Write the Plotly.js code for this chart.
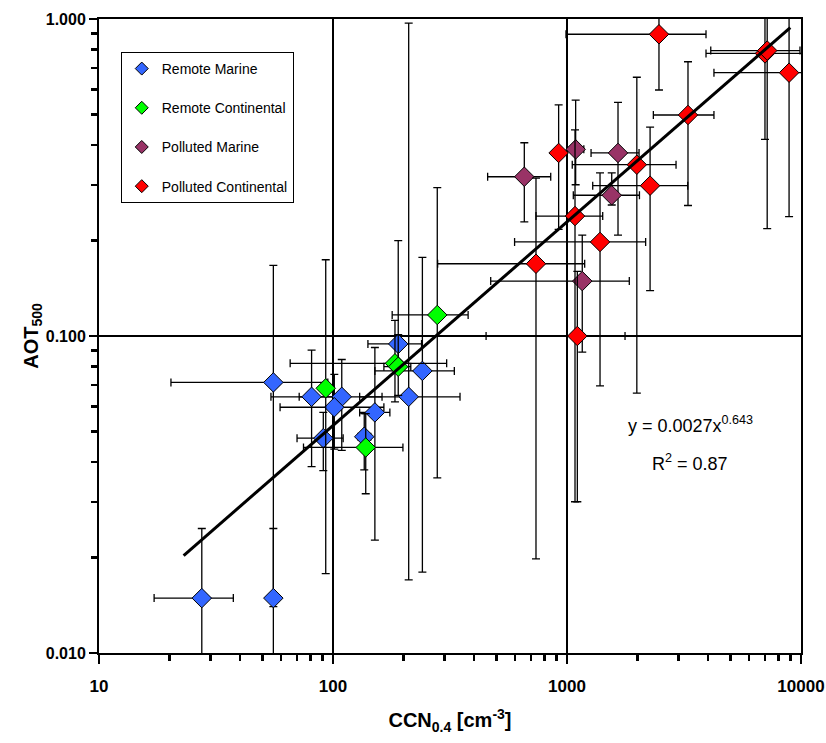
<!DOCTYPE html>
<html>
<head>
<meta charset="utf-8">
<script src="https://cdn.plot.ly/plotly-3.0.1.min.js"></script>
<style>html,body{margin:0;padding:0;background:#fff;}#chart{width:826px;height:743px;}</style>
</head>
<body>
<div id="chart"></div>
<script>
// Remote Marine
const rmX   = [27.5, 55.6, 55.6, 81, 109, 101.3, 90.9, 151, 136, 190, 241, 210.6];
const rmY   = [0.0149, 0.0149, 0.0714, 0.0643, 0.0643, 0.0596, 0.0476, 0.0574, 0.0481, 0.0944, 0.0776, 0.0643];
const rmXLo = [17.2, 55.6, 20.3, 54.3, 71.7, 59.4, 70.2, 130, 128, 141, 151, 130];
const rmXHi = [37.5, 55.6, 95, 100, 162, 165, 110.5, 175, 145, 239, 330, 349];
const rmYLo = [0.005, 0.014, 0.005, 0.0387, 0.0436, 0.044, 0.0376, 0.0227, 0.0378, 0.078, 0.018, 0.017];
const rmYHi = [0.0247, 0.0247, 0.167, 0.0903, 0.0843, 0.0757, 0.0574, 0.092, 0.0569, 0.2, 0.177, 0.97];
// Remote Continental
const rcX   = [93.1, 138, 184, 190, 279];
const rcY   = [0.0684, 0.0445, 0.082, 0.080, 0.1165];
const rcXLo = [93.1, 74.8, 65.6, 165, 179];
const rcXHi = [93.1, 199, 306, 215, 378];
const rcYLo = [0.0178, 0.0318, 0.062, 0.065, 0.0357];
const rcYHi = [0.174, 0.0569, 0.112, 0.101, 0.294];
// Polluted Marine
const pmX   = [657, 1089, 1652, 1553, 1162];
const pmY   = [0.318, 0.388, 0.378, 0.278, 0.149];
const pmXLo = [458, 1040, 1267, 1064, 472];
const pmXHi = [852, 1180, 2032, 2040, 1846];
const pmYLo = [0.229, 0.30, 0.208, 0.259, 0.089];
const pmYHi = [0.407, 0.555, 0.546, 0.327, 0.208];
// Polluted Continental
const pcX   = [2472, 7015, 7170, 8892, 3289, 921, 1988, 2265, 1082, 1384, 737, 1107];
const pcY   = [0.895, 0.779, 0.795, 0.677, 0.498, 0.378, 0.347, 0.298, 0.239, 0.198, 0.169, 0.100];
const pcXLo = [990, 3927, 4115, 4246, 2339, 921, 1053, 1288, 737, 597, 280, 451];
const pcXHi = [3927, 10330, 9900, 10500, 4246, 921, 2924, 3281, 1421, 2168, 1190, 1770];
const pcYLo = [0.597, 0.417, 0.218, 0.238, 0.258, 0.217, 0.066, 0.139, 0.030, 0.0696, 0.0198, 0.030];
const pcYHi = [1.3, 1.3, 1.3, 1.3, 0.733, 0.536, 0.655, 0.456, 0.447, 0.327, 0.315, 0.16];
// Power-law fit line end points
const fitX = [23, 9000];
const fitY = [0.0203, 0.94];
// tick values
const xMajor = [10, 100, 1000, 10000];
const xMajorText = ['10', '100', '1000', '10000'];
const xMinor = [20, 30, 40, 50, 60, 70, 80, 90, 200, 300, 400, 500, 600, 700, 800, 900, 2000, 3000, 4000, 5000, 6000, 7000, 8000, 9000];
const yMajor = [0.01, 0.1, 1];
const yMajorText = ['0.010', '0.100', '1.000'];
const yMinor = [0.02, 0.03, 0.04, 0.05, 0.06, 0.07, 0.08, 0.09, 0.2, 0.3, 0.4, 0.5, 0.6, 0.7, 0.8, 0.9];

const names = ['Remote Marine', 'Remote Continental', 'Polluted Marine', 'Polluted Continental'];
const colors = ['#3366FF', '#00FF00', '#993366', '#FF0000'];
const groups = [
  [rmX, rmY, rmXLo, rmXHi, rmYLo, rmYHi],
  [rcX, rcY, rcXLo, rcXHi, rcYLo, rcYHi],
  [pmX, pmY, pmXLo, pmXHi, pmYLo, pmYHi],
  [pcX, pcY, pcXLo, pcXHi, pcYLo, pcYHi]
];

const traces = [];
groups.forEach((g, i) => {
  const [x, y, xl, xh, yl, yh] = g;
  traces.push({
    type: 'scatter', mode: 'markers', x: x, y: y, showlegend: false,
    marker: {symbol: 'diamond', size: 15, color: colors[i], line: {color: '#000', width: 1}},
    error_x: {type: 'data', symmetric: false, array: x.map((v, k) => xh[k] - v), arrayminus: x.map((v, k) => v - xl[k]),
              color: '#000', thickness: 1.3, width: 4},
    error_y: {type: 'data', symmetric: false, array: y.map((v, k) => yh[k] - v), arrayminus: y.map((v, k) => v - yl[k]),
              color: '#000', thickness: 1.3, width: 4}
  });
});
// legend entries
names.forEach((n, i) => {
  traces.push({
    type: 'scatter', mode: 'markers', x: [null], y: [null], name: n, legendgroup: 'g' + i,
    marker: {symbol: 'diamond', size: 10, color: colors[i], line: {color: '#000', width: 1}}
  });
});
traces.push({
  type: 'scatter', mode: 'lines', x: fitX, y: fitY, showlegend: false,
  line: {color: '#000', width: 3}
});

const fam = 'Liberation Sans, Arial, sans-serif';

const layout = {
  width: 826, height: 743,
  margin: {l: 99, r: 25, t: 19, b: 90},
  paper_bgcolor: '#fff', plot_bgcolor: '#fff',
  showlegend: true,
  legend: {
    x: 0.031, y: 0.948, xanchor: 'left', yanchor: 'top',
    bgcolor: '#fff', bordercolor: '#000', borderwidth: 1,
    font: {family: fam, size: 14, color: '#000'},
    tracegroupgap: 18, itemwidth: 30
  },
  xaxis: {
    type: 'log', range: [1, 4], tickmode: 'array', tickvals: xMajor, ticktext: xMajorText,
    ticks: 'outside', ticklen: 9, tickwidth: 2.5, tickcolor: '#000', ticklabelstandoff: 8,
    showline: true, linecolor: '#000', linewidth: 2, mirror: true,
    showgrid: true, gridcolor: '#000', gridwidth: 1.5, zeroline: false,
    minor: {tickmode: 'array', tickvals: xMinor, ticks: 'outside', ticklen: 6, tickwidth: 2.5, tickcolor: '#000', showgrid: false},
    tickfont: {family: fam, size: 17, color: '#000', weight: 'bold'},
    title: {text: 'CCN<sub>0.4</sub> [cm<sup>-3</sup>]', font: {family: fam, size: 20, color: '#000', weight: 'bold'}, standoff: 18}
  },
  yaxis: {
    type: 'log', range: [-2, 0], tickmode: 'array', tickvals: yMajor, ticktext: yMajorText,
    ticks: 'outside', ticklen: 8, tickwidth: 2.5, tickcolor: '#000',
    showline: true, linecolor: '#000', linewidth: 2, mirror: true,
    showgrid: true, gridcolor: '#000', gridwidth: 1.5, zeroline: false,
    minor: {tickmode: 'array', tickvals: yMinor, ticks: 'outside', ticklen: 6, tickwidth: 2.5, tickcolor: '#000', showgrid: false},
    tickfont: {family: fam, size: 16, color: '#000', weight: 'bold'},
    title: {text: 'AOT<sub>500</sub>', font: {family: fam, size: 20, color: '#000', weight: 'bold'}, standoff: 2}
  },
  annotations: [
    {xref: 'paper', yref: 'paper', x: 0.842, y: 0.36, showarrow: false, xanchor: 'center', yanchor: 'middle',
     text: 'y = 0.0027x<sup>0.643</sup>', font: {family: fam, size: 18, color: '#000'}},
    {xref: 'paper', yref: 'paper', x: 0.842, y: 0.30, showarrow: false, xanchor: 'center', yanchor: 'middle',
     text: 'R<sup>2</sup> = 0.87', font: {family: fam, size: 18, color: '#000'}}
  ]
};

Plotly.newPlot('chart', traces, layout, {displayModeBar: false, staticPlot: true});
</script>
</body>
</html>
